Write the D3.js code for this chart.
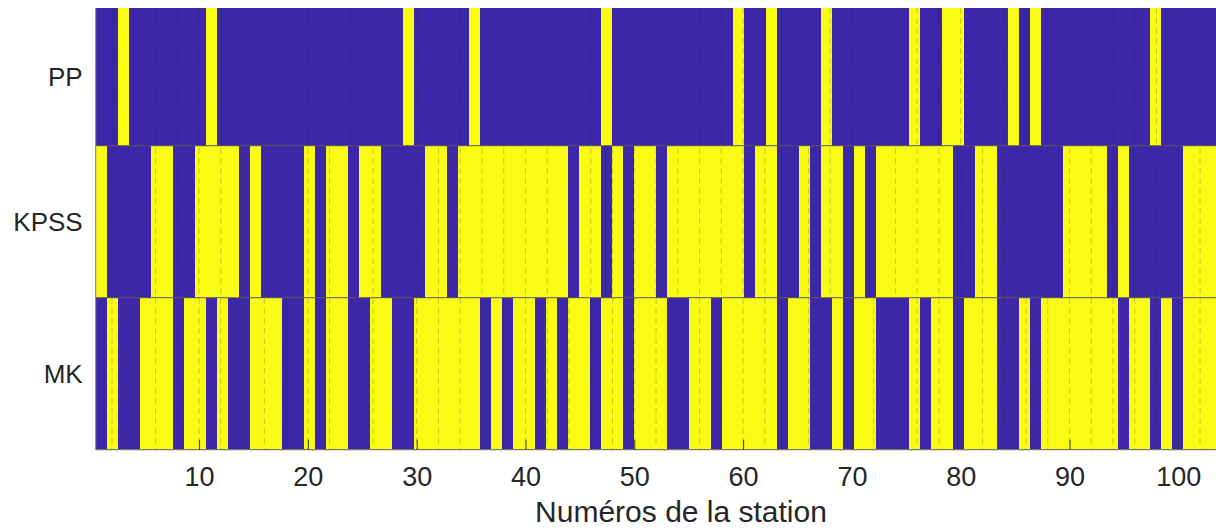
<!DOCTYPE html>
<html>
<head>
<meta charset="utf-8">
<script src="https://cdn.jsdelivr.net/npm/d3@7"></script>
<style>
  html, body { margin: 0; padding: 0; background: #ffffff; }
  svg { display: block; }
  text { font-family: "Liberation Sans", Arial, sans-serif; fill: #262626; }
</style>
</head>
<body>
<svg id="chart" width="1216" height="531"></svg>
<script>
// ---- data ----
const stations = d3.range(1, 103);           // 102 stations (columns of the image)
const testNames = ["PP", "KPSS", "MK"];      // rows, top to bottom
const xTickValues = [10, 20, 30, 40, 50, 60, 70, 80, 90, 100];
const xTickLabels = ["10", "20", "30", "40", "50", "60", "70", "80", "90", "100"];
const gridValues = d3.range(2, 103, 2);
const xLabel = "Numéros de la station";

// 1 = yellow, 0 = blue
const ppValues = [
  0,0,1,0,0,0,0,0,0,0,
  1,0,0,0,0,0,0,0,0,0,
  0,0,0,0,0,0,0,0,1,0,
  0,0,0,0,1,0,0,0,0,0,
  0,0,0,0,0,0,1,0,0,0,
  0,0,0,0,0,0,0,0,1,0,
  0,1,0,0,0,0,1,0,0,0,
  0,0,0,0,1,0,0,1,1,0,
  0,0,0,1,0,1,0,0,0,0,
  0,0,0,0,0,0,1,0,0,0,
  0,0
];
const kpssValues = [
  1,0,0,0,0,1,1,0,0,1,
  1,1,1,0,1,0,0,0,0,1,
  0,1,1,0,1,1,0,0,0,0,
  1,1,0,1,1,1,1,1,1,1,
  1,1,1,0,1,1,0,1,0,1,
  1,0,1,1,1,1,1,1,1,0,
  1,1,0,0,1,0,1,1,0,1,
  0,1,1,1,1,1,1,1,0,0,
  1,1,0,0,0,0,0,0,1,1,
  1,1,0,1,0,0,0,0,0,1,
  1,1
];
const mkValues = [
  0,1,0,0,1,1,1,0,1,1,
  0,1,0,0,1,1,1,0,0,1,
  0,1,1,0,0,1,1,0,0,1,
  1,1,1,1,1,0,1,0,1,1,
  0,1,0,1,1,0,1,1,0,1,
  1,1,0,0,1,1,0,1,1,1,
  1,1,0,1,1,0,0,1,0,1,
  1,0,0,0,1,0,1,1,0,1,
  1,1,0,0,1,0,1,1,1,1,
  1,1,1,0,1,1,0,1,0,1,
  1,1
];

// ---- layout ----
const svg = d3.select("#chart");
const plotLeft = 95.7, plotRight = 1216.4;
const plotTop = 8, plotBottom = 449.7;
const rowBandTop = -6.3;

const x = d3.scaleLinear().domain([0.5, 103.5]).range([plotLeft, plotRight]);
const xCell = d3.scaleBand().domain(stations).range([x(0.5), x(103.5)]).padding(0);
const y = d3.scaleBand().domain(testNames).range([rowBandTop, plotBottom]).padding(0);
const color = d3.scaleOrdinal().domain([0, 1]).range(["#3E26A8", "#F9FB15"]);

const rowsData = [
  { name: "PP", values: ppValues },
  { name: "KPSS", values: kpssValues },
  { name: "MK", values: mkValues }
];

svg.append("defs").append("clipPath").attr("id", "plotclip")
  .append("rect")
  .attr("x", plotLeft).attr("y", plotTop)
  .attr("width", plotRight - plotLeft).attr("height", plotBottom - plotTop);

const plot = svg.append("g").attr("clip-path", "url(#plotclip)");

const cells = [];
rowsData.forEach(r => r.values.forEach((v, i) => cells.push({ row: r.name, station: stations[i], v })));

plot.selectAll("rect.cell").data(cells).join("rect")
  .attr("class", "cell")
  .attr("x", d => xCell(d.station))
  .attr("y", d => y(d.row))
  .attr("width", xCell.bandwidth() + 0.4)
  .attr("height", y.bandwidth())
  .attr("fill", d => color(d.v))
  .attr("shape-rendering", "crispEdges");

// dashed grid lines
plot.selectAll("line.grid").data(gridValues).join("line")
  .attr("class", "grid")
  .attr("x1", d => x(d)).attr("x2", d => x(d))
  .attr("y1", plotTop).attr("y2", plotBottom)
  .attr("stroke", "#262626").attr("stroke-opacity", 0.22)
  .attr("stroke-width", 1)
  .attr("stroke-dasharray", "6,4");

// row separator lines
plot.selectAll("line.sep").data(testNames.slice(1)).join("line")
  .attr("class", "sep")
  .attr("x1", plotLeft).attr("x2", plotRight)
  .attr("y1", d => y(d)).attr("y2", d => y(d))
  .attr("stroke", "#5a5a5a").attr("stroke-width", 1);

// axes lines
svg.append("line").attr("x1", plotLeft).attr("x2", plotRight)
  .attr("y1", plotBottom).attr("y2", plotBottom)
  .attr("stroke", "#7a7a6a").attr("stroke-width", 1.2);
svg.append("line").attr("x1", plotLeft).attr("x2", plotLeft)
  .attr("y1", plotTop).attr("y2", plotBottom)
  .attr("stroke", "#7a7a7a").attr("stroke-width", 1);

// x axis ticks (inward) and labels
const xAxis = d3.axisBottom(x)
  .tickValues(xTickValues)
  .tickFormat((d, i) => xTickLabels[i])
  .tickSizeInner(-10).tickSizeOuter(0).tickPadding(17);
const gx = svg.append("g").attr("transform", `translate(0,${plotBottom})`).call(xAxis);
gx.select(".domain").remove();
gx.selectAll(".tick line").attr("stroke", "#3a3a3a").attr("stroke-width", 1);
gx.selectAll(".tick text")
  .style("font-family", '"Liberation Sans", Arial, sans-serif')
  .style("font-size", "27px").attr("fill", "#262626");

// y labels, centred on the visible part of each row
svg.append("g").selectAll("text.ylab").data(testNames).join("text")
  .attr("class", "ylab")
  .attr("x", plotLeft - 13)
  .attr("y", d => (Math.max(y(d), plotTop) + y(d) + y.bandwidth()) / 2)
  .attr("text-anchor", "end")
  .attr("dominant-baseline", "central")
  .style("font-size", "26px")
  .text(d => d);

// x label
svg.append("text")
  .attr("x", 681).attr("y", 522)
  .attr("text-anchor", "middle")
  .style("font-size", "30px")
  .text(xLabel);
</script>
</body>
</html>
